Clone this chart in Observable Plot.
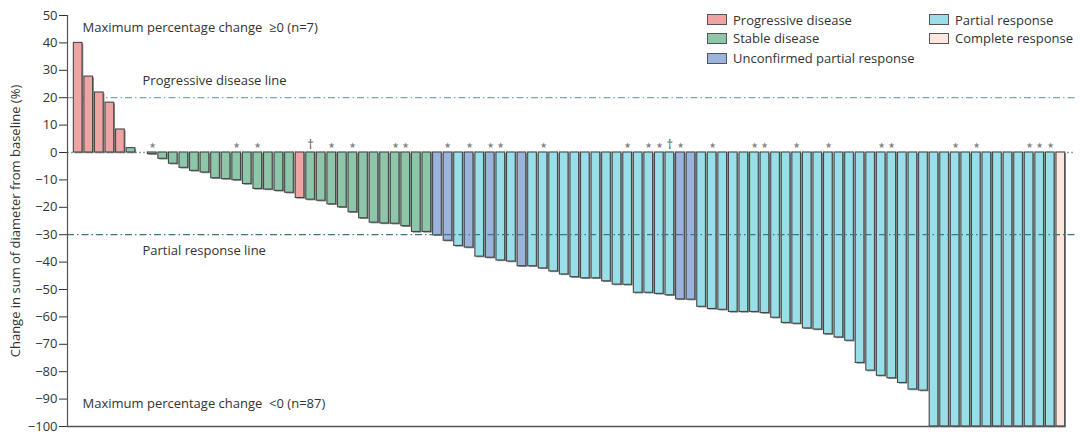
<!DOCTYPE html>
<html><head><meta charset="utf-8">
<script src="https://cdn.jsdelivr.net/npm/d3@7"></script>
<script src="https://cdn.jsdelivr.net/npm/@observablehq/plot@0.6"></script>
<style>
body{margin:0;background:#fff;font-family:"Open Sans",sans-serif;}
#wrap{position:relative;width:1080px;height:436px;overflow:hidden;}
.li{position:absolute;height:18px;display:flex;align-items:center;font-size:13px;color:#333;white-space:nowrap;}
.sw{width:18px;height:9px;border:1px solid #555;margin-right:6px;}
</style></head><body><div id="wrap"></div>
<script>
// Best change per patient (%), ordered as in the waterfall
const values = [
  40, 27.7, 21.9, 18.2, 8.4, 1.6, 0, -0.6, -2.3, -4.1,
  -5.6, -6.7, -7.3, -9.4, -9.7, -10.1, -11.5, -13.3, -13.5, -14.0,
  -14.7, -16.6, -17.2, -17.6, -18.9, -20.0, -21.8, -24.0, -25.6, -25.9,
  -26.0, -26.9, -29.0, -29.0, -30.2, -32.2, -34.1, -34.7, -38.0, -38.4,
  -39.4, -39.8, -41.5, -41.5, -42.3, -43.4, -44.5, -45.5, -45.9, -45.9,
  -47.0, -48.2, -48.3, -51.2, -51.2, -51.6, -52.1, -53.6, -53.7, -56.3,
  -57.1, -57.4, -58.2, -58.2, -58.2, -58.6, -60.3, -62.2, -62.5, -64.2,
  -64.6, -66.3, -67.5, -68.7, -76.8, -79.6, -81.5, -82.4, -84.1, -86.5,
  -86.9, -100, -100, -100, -100, -100, -100, -100, -100, -100,
  -100, -100, -100, -100
];
// Best overall response per bar
const responses = [
  "PD","PD","PD","PD","PD","SD","SD","SD","SD","SD",
  "SD","SD","SD","SD","SD","SD","SD","SD","SD","SD",
  "SD","PD","SD","SD","SD","SD","SD","SD","SD","SD",
  "SD","SD","SD","SD","UPR","UPR","PR","UPR","PR","UPR",
  "PR","PR","UPR","PR","PR","PR","PR","PR","PR","PR",
  "PR","PR","PR","PR","PR","PR","PR","UPR","UPR","PR",
  "PR","PR","PR","PR","PR","PR","PR","PR","PR","PR",
  "PR","PR","PR","PR","PR","PR","PR","PR","PR","PR",
  "PR","PR","PR","PR","PR","PR","PR","PR","PR","PR",
  "PR","PR","PR","CR"
];
// Marker above each bar
const markers = [
  "","","","","","","","★","","",
  "","","","","","★","","★","","",
  "","","†","","★","","★","","","",
  "★","★","","","","★","","★","","★",
  "★","","","","★","","","","","",
  "","","★","","★","★","†","★","","",
  "★","","","","★","★","","","★","",
  "","★","","","","","★","★","","",
  "","","","★","","★","","","","",
  "★","★","★",""
];
const codes = ["PD","SD","UPR","PR","CR"];
const labels = ["Progressive disease","Stable disease","Unconfirmed partial response","Partial response","Complete response"];
const colors = ["#EEA4A2","#8DC6A8","#9BB4DD","#98DFEA","#FDE6DE"];
const yTicks = [50,40,30,20,10,0,-10,-20,-30,-40,-50,-60,-70,-80,-90,-100];
const refLines = [20, -30];
const refLabels = ["Progressive disease line", "Partial response line"];
const topNote = "Maximum percentage change  ≥0 (n=7)";
const bottomNote = "Maximum percentage change  <0 (n=87)";
const yLabel = "Change in sum of diameter from baseline (%)";

const ids = values.map((_, i) => i + 1);
const data = values.map((v, i) => ({id: i + 1, value: v, resp: responses[i], mark: markers[i]}));
const bars = data.filter(d => d.value !== 0);

const chart = Plot.plot({
  width: 1080, height: 436,
  marginLeft: 67, marginRight: 5, marginTop: 15, marginBottom: 10,
  style: {fontFamily: "Open Sans", fontSize: "13px", color: "#333", background: "#fff"},
  x: {type: "band", domain: ids, range: [67, 1071], paddingInner: 0.18, paddingOuter: 0.6, axis: null},
  y: {domain: [-100, 50], axis: null},
  color: {domain: codes, range: colors},
  marks: [
    Plot.ruleY([0], {stroke: "#86abb4", strokeWidth: 1.3, strokeDasharray: "2,2"}),
    Plot.ruleY([refLines[0]], {stroke: "#7fa5ae", strokeWidth: 1.2, strokeDasharray: "7,3,1.5,3"}),
    Plot.barY(bars, {x: "id", y: "value", fill: "#8a8a8a", dx: 1.3, dy: 1.2}),
    Plot.barY(bars, {x: "id", y: "value", fill: "resp", stroke: "#474747", strokeWidth: 1.1}),
    Plot.ruleY([refLines[1]], {stroke: "#3f7683", strokeWidth: 1.2, strokeDasharray: "7,3,1.5,3"}),
    Plot.text(data.filter(d => d.mark === "★"), {x: "id", y: 0, text: "mark", dy: -7, fontSize: 8, fill: "#888"}),
    Plot.text(data.filter(d => d.mark === "†"), {x: "id", y: 0, text: "mark", dy: -8, fontSize: 13, fill: "#555"}),
    Plot.axisY({ticks: yTicks, tickSize: 8, tickPadding: 2, tickFormat: d => d < 0 ? "−" + Math.abs(d) : String(d),
      fontSize: 13, label: yLabel, labelAnchor: "center", labelOffset: 57, labelArrow: "none"}),
    Plot.frame({anchor: "left", stroke: "#555", strokeWidth: 1.2}),
    Plot.ruleY([-100], {stroke: "#555", strokeWidth: 1.5, insetRight: 10}),
    Plot.text([topNote], {frameAnchor: "top-left", dx: 15, dy: 7, textAnchor: "start", fill: "#333", fontSize: 13}),
    Plot.text([refLabels[0]], {y: refLines[0], frameAnchor: "left", dx: 75, dy: -17, textAnchor: "start", fill: "#333", fontSize: 13}),
    Plot.text([refLabels[1]], {y: refLines[1], frameAnchor: "left", dx: 75, dy: 16, textAnchor: "start", fill: "#333", fontSize: 13}),
    Plot.text([bottomNote], {frameAnchor: "bottom-left", dx: 15, dy: -19, textAnchor: "start", fill: "#333", fontSize: 13})
  ]
});
const wrap = document.getElementById("wrap");
wrap.appendChild(chart);

// Legend overlay (top right)
const legendPos = [[707, 10.5], [707, 29], [707, 49], [929, 10.5], [929, 29]];
labels.forEach((lab, i) => {
  const el = document.createElement("div");
  el.className = "li";
  el.style.left = legendPos[i][0] + "px";
  el.style.top = legendPos[i][1] + "px";
  const sw = document.createElement("span");
  sw.className = "sw";
  sw.style.background = colors[i];
  el.appendChild(sw);
  el.appendChild(document.createTextNode(lab));
  wrap.appendChild(el);
});
</script>
</body></html>
